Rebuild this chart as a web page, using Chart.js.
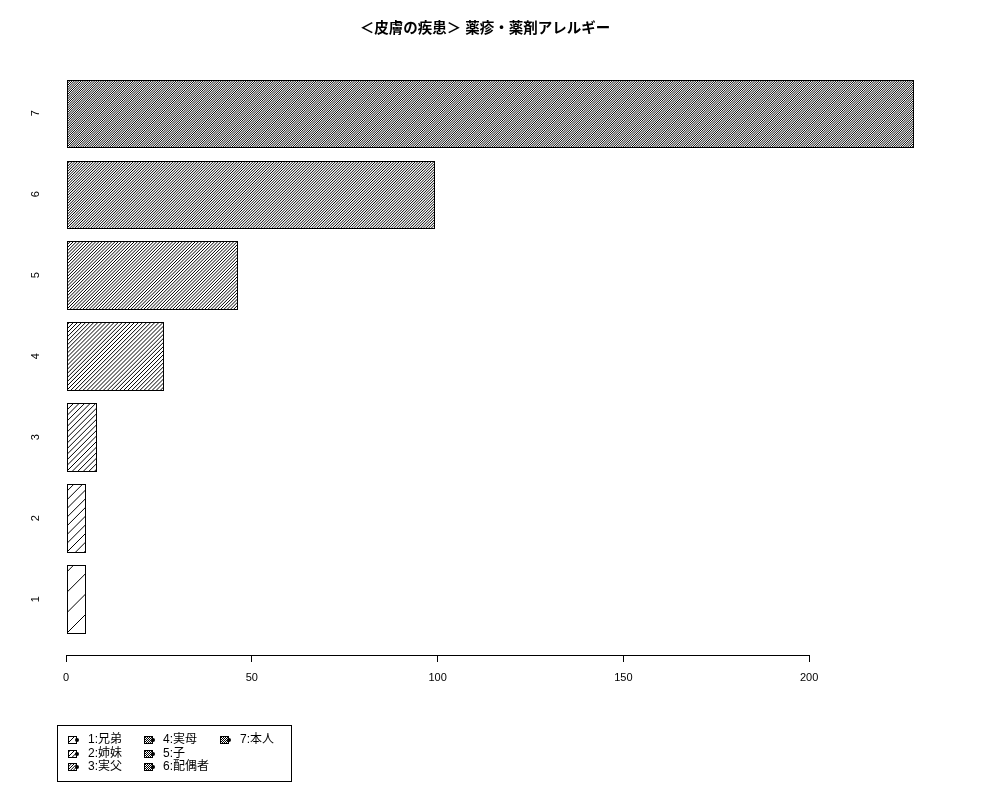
<!DOCTYPE html>
<html>
<head>
<meta charset="utf-8">
<script src="https://cdn.jsdelivr.net/npm/chart.js@4"></script>
<style>body{margin:0;background:#fff}</style>
</head>
<body>
<canvas id="graph" width="1000" height="800"></canvas>
<script>
// données
var categories = ["1", "2", "3", "4", "5", "6", "7"];
var legendLabels = ["1:兄弟", "2:姉妹", "3:実父", "4:実母", "5:子", "6:配偶者", "7:本人"];
var counts = [5, 5, 8, 26, 46, 99, 228];
var xTicks = [0, 50, 100, 150, 200];
var titre = "＜皮膚の疾患＞ 薬疹・薬剤アレルギー";

var police = "'Liberation Sans', 'Noto Sans CJK JP', sans-serif";
// espacement vertical des hachures pour chaque barre (style)
var ecarts = [20.4, 8.7, 5.55, 4.07, 3.21, 2.66, 2.26];

// comme barplot de R : largeur 1, espace 0.2
function positionBarre(i) {
    return 1.2 * i + 0.7;
}

function hachurer(ctx, left, top, w, h, gap) {
    ctx.save();
    ctx.beginPath();
    ctx.rect(left, top, w, h);
    ctx.clip();
    ctx.beginPath();
    for (var y0 = top + h; y0 < top + h + w + gap; y0 += gap) {
        ctx.moveTo(left, y0);
        ctx.lineTo(left + w + 2, y0 - w - 2);
    }
    for (var y1 = top + h - gap; y1 > top - 2; y1 -= gap) {
        ctx.moveTo(left, y1);
        ctx.lineTo(left + w + 2, y1 - w - 2);
    }
    ctx.lineWidth = 1;
    ctx.strokeStyle = "#000";
    ctx.stroke();
    ctx.restore();
}

var pluginBarres = {
    id: "barres",
    afterDatasetsDraw: function(chart) {
        var ctx = chart.ctx;
        var meta = chart.getDatasetMeta(0);
        meta.data.forEach(function(bar, i) {
            var p = bar.getProps(["x", "y", "base", "height"], true);
            var left = Math.round(Math.min(p.x, p.base));
            var right = Math.round(Math.max(p.x, p.base));
            var top = Math.round(p.y - p.height / 2);
            var bottom = Math.round(p.y + p.height / 2);
            hachurer(ctx, left, top, right - left, bottom - top, ecarts[i]);
            ctx.save();
            ctx.lineWidth = 1;
            ctx.strokeStyle = "#000";
            ctx.strokeRect(left + 0.5, top + 0.5, right - left, bottom - top);
            ctx.restore();
        });
    },
    afterDraw: function(chart) {
        var ctx = chart.ctx;
        var sx = chart.scales.x;
        var yAxe = Math.round(chart.chartArea.bottom) + 0.5;
        ctx.save();
        ctx.strokeStyle = "#000";
        ctx.lineWidth = 1;
        ctx.beginPath();
        ctx.moveTo(Math.round(sx.getPixelForValue(xTicks[0])) + 0.5, yAxe);
        ctx.lineTo(Math.round(sx.getPixelForValue(xTicks[xTicks.length - 1])) + 0.5, yAxe);
        ctx.stroke();

        // légende façon R
        ctx.strokeRect(57.5, 725.5, 234, 56);
        var colSwatch = [68, 144, 220];
        var colTexte = [88, 163, 240];
        var lignes = [740, 753.5, 767];
        ctx.font = "12px " + police;
        ctx.fillStyle = "#000";
        ctx.textBaseline = "middle";
        ctx.textAlign = "left";
        legendLabels.forEach(function(lab, i) {
            var c = Math.floor(i / 3);
            var r = i % 3;
            var x = colSwatch[c];
            var y = Math.round(lignes[r]) - 4;
            ctx.fillStyle = "#fff";
            ctx.fillRect(x, y, 8, 7);
            hachurer(ctx, x, y, 8, 7, Math.max(ecarts[i] * 0.5, 2));
            ctx.strokeRect(x + 0.5, y + 0.5, 8, 7);
            ctx.fillStyle = "#000";
            ctx.beginPath();
            ctx.arc(x + 9, y + 4, 2, 0, 2 * Math.PI);
            ctx.fill();
            ctx.fillText(lab, colTexte[c], lignes[r]);
        });
        ctx.restore();
    }
};

var donnees = counts.map(function(v, i) {
    return { x: v, y: positionBarre(i) };
});

var graphique = new Chart(document.getElementById("graph"), {
    type: "bar",
    data: {
        datasets: [{
            data: donnees,
            backgroundColor: "rgba(0,0,0,0)",
            borderWidth: 0,
            categoryPercentage: 1,
            barPercentage: 1 / 1.2
        }]
    },
    plugins: [pluginBarres],
    options: {
        responsive: false,
        animation: false,
        indexAxis: "y",
        layout: {
            padding: { left: 23, right: 53, top: 0, bottom: 0 }
        },
        plugins: {
            legend: { display: false },
            tooltip: { enabled: false },
            title: {
                display: true,
                text: titre,
                color: "#000",
                font: { family: police, size: 14.5, weight: "bold" },
                padding: { top: 20, bottom: 20 }
            }
        },
        scales: {
            x: {
                type: "linear",
                position: "bottom",
                min: -3.23,
                max: 237.1,
                afterFit: function(s) { s.height = 145; },
                afterBuildTicks: function(s) {
                    s.ticks = xTicks.map(function(v) { return { value: v }; });
                },
                border: { display: false },
                grid: {
                    drawOnChartArea: false,
                    drawTicks: true,
                    tickLength: 7,
                    color: "#000"
                },
                ticks: {
                    color: "#000",
                    padding: 9,
                    maxRotation: 0,
                    font: { family: police, size: 11 },
                    callback: function(v) { return v; }
                }
            },
            y: {
                type: "linear",
                position: "left",
                offset: false,
                min: -0.128,
                max: 8.728,
                afterFit: function(s) { s.width = 31; },
                afterBuildTicks: function(s) {
                    s.ticks = categories.map(function(c, i) { return { value: positionBarre(i) }; });
                },
                border: { display: false },
                grid: { display: false, drawTicks: false },
                ticks: {
                    color: "#000",
                    crossAlign: "center",
                    padding: 14.5,
                    minRotation: 90,
                    maxRotation: 90,
                    font: { family: police, size: 11 },
                    callback: function(v, i) { return categories[i]; }
                }
            }
        }
    }
});
</script>
</body>
</html>
